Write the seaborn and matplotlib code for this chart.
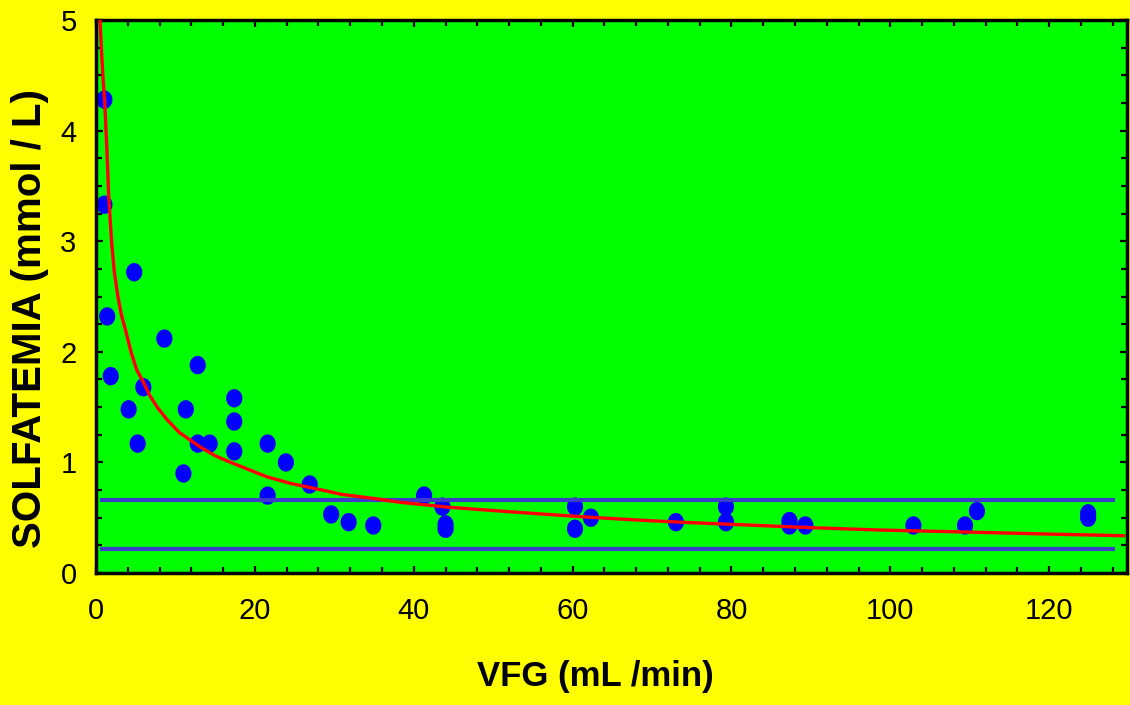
import numpy as np
import pandas as pd
import matplotlib
matplotlib.use("Agg")
import matplotlib.pyplot as plt
import seaborn as sns

# patient points: VFG (mL/min) vs sulfatemia (mmol/L)
vfg = [1.05, 1.05, 4.8, 1.4, 8.6, 12.8, 1.85, 5.95, 17.4, 4.1, 11.3, 17.4,
       5.24, 12.8, 14.3, 21.6, 17.4, 23.9, 11.0, 26.9, 21.6, 29.6, 31.8, 34.9,
       41.3, 43.6, 44.0, 44.0, 60.3, 60.3, 62.3, 73.0, 79.3, 79.3, 87.3, 87.3,
       89.3, 102.9, 109.4, 110.9, 124.9, 124.9]
solf = [4.28, 3.33, 2.72, 2.32, 2.12, 1.88, 1.78, 1.68, 1.58, 1.48, 1.48, 1.37,
        1.17, 1.17, 1.17, 1.17, 1.10, 1.00, 0.90, 0.80, 0.70, 0.53, 0.46, 0.43,
        0.70, 0.60, 0.44, 0.40, 0.60, 0.40, 0.50, 0.46, 0.60, 0.46, 0.47, 0.43,
        0.43, 0.43, 0.43, 0.56, 0.54, 0.50]

# fitted curve
curve_x = [0.5, 0.7, 0.9, 1.1, 1.35, 1.6, 1.95, 2.3, 2.75, 3.2, 3.7, 4.4, 5.1,
           6.0, 6.8, 7.8, 8.9, 10.5, 13.1, 15.0, 17.3, 19.4, 21.5, 24.5, 28.0,
           31.0, 34.9, 38.2, 44.5, 50.0, 55.8, 62.0, 68.4, 73.5, 80.0, 90.0,
           98.6, 110.0, 120.0, 129.4]
curve_y = [5.0, 4.7, 4.45, 4.25, 3.85, 3.4, 3.0, 2.72, 2.5, 2.33, 2.2, 2.0, 1.84,
           1.72, 1.6, 1.49, 1.39, 1.27, 1.14, 1.06, 0.99, 0.93, 0.87, 0.81,
           0.757, 0.71, 0.675, 0.64, 0.594, 0.565, 0.535, 0.505, 0.478, 0.46,
           0.44, 0.41, 0.389, 0.37, 0.352, 0.337]

# reference band
band_levels = [0.66, 0.22]
band_span = [0.5, 128.3]

x_ticks = [0, 20, 40, 60, 80, 100, 120]
y_ticks = [0, 1, 2, 3, 4, 5]

sns.set_style("ticks")
plt.rcParams['font.family'] = ['Liberation Sans', 'DejaVu Sans']
plt.rcParams['text.color'] = 'black'
plt.rcParams['axes.labelcolor'] = 'black'
plt.rcParams['xtick.color'] = 'black'
plt.rcParams['ytick.color'] = 'black'

df = pd.DataFrame({'VFG': vfg, 'SOLF': solf})
fit = pd.DataFrame({'x': curve_x, 'y': curve_y})

fig = plt.figure(figsize=(11.3, 7.05), dpi=100, facecolor='#FFFF00')
ax = fig.add_axes([0.085, 0.1872, 0.9124, 0.7844])
ax.set_facecolor('#00FF00')

t = np.linspace(0, 2 * np.pi, 60)
ellipse = list(zip(0.88 * np.cos(t), np.sin(t)))

sns.scatterplot(data=df, x='VFG', y='SOLF', ax=ax, marker=ellipse, s=175,
                color='#0000FF', edgecolor='none', linewidth=0, zorder=2)
ax.hlines(band_levels, band_span[0], band_span[1], colors='#3C3CC8',
          linewidth=3, zorder=3)
sns.lineplot(data=fit, x='x', y='y', ax=ax, sort=False, estimator=None,
             color='#FF0000', linewidth=2.4, zorder=4)

ax.set_xlim(0, 129.8)
ax.set_ylim(0, 5)
ax.set_xticks(x_ticks)
ax.set_yticks(y_ticks)
ax.set_xticks(np.arange(0, 130, 4), minor=True)
ax.set_yticks(np.arange(0, 5.01, 0.25), minor=True)
ax.tick_params(which='both', direction='in', top=True, right=True,
               color='black', labelcolor='black', width=1.6)
ax.tick_params(which='major', length=5)
ax.tick_params(which='minor', length=4)
ax.tick_params(axis='x', which='major', labelsize=21, pad=17)
ax.tick_params(axis='y', which='major', labelsize=21, pad=14)

for sp in ax.spines.values():
    sp.set_color('black')
    sp.set_linewidth(2.5)

ax.set_xlabel('VFG (mL /min)', fontsize=25, fontweight='bold', color='black')
ax.xaxis.set_label_coords(0.484, -0.188)
ax.xaxis.label.set_va('center')
ax.set_ylabel('SOLFATEMIA (mmol / L)', fontsize=29, fontweight='bold',
              color='black')
ax.yaxis.set_label_coords(-0.064, 0.461)
ax.yaxis.label.set_va('center')

fig.savefig('out.png', dpi=100, facecolor=fig.get_facecolor())
